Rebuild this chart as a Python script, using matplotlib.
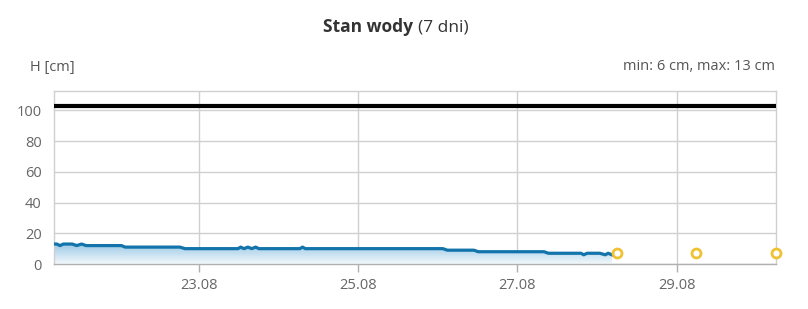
import numpy as np
import pandas as pd
import matplotlib
matplotlib.use("Agg")
import matplotlib.pyplot as plt
import matplotlib.dates as mdates
from matplotlib.colors import LinearSegmentedColormap

plt.rcParams['font.family'] = ['Open Sans', 'DejaVu Sans']

# ==========================================
# DATA — water level [cm]
# ==========================================
obs_times = [
    "2024-08-21 04:10", "2024-08-21 05:00", "2024-08-21 06:00", "2024-08-21 07:00",
    "2024-08-21 09:40", "2024-08-21 11:00", "2024-08-21 12:30", "2024-08-21 13:50",
    "2024-08-22 00:30", "2024-08-22 01:40", "2024-08-22 18:10", "2024-08-22 19:40",
    "2024-08-23 11:40", "2024-08-23 12:30", "2024-08-23 13:30", "2024-08-23 14:40",
    "2024-08-23 15:50", "2024-08-23 17:00", "2024-08-23 18:00",
    "2024-08-24 06:20", "2024-08-24 07:10", "2024-08-24 08:00",
    "2024-08-26 01:30", "2024-08-26 02:50", "2024-08-26 10:50", "2024-08-26 12:10",
    "2024-08-27 08:00", "2024-08-27 09:20", "2024-08-27 19:10", "2024-08-27 20:00",
    "2024-08-27 21:00", "2024-08-28 00:50", "2024-08-28 02:30", "2024-08-28 03:20",
    "2024-08-28 04:30",
]
obs_levels = [
    13, 13, 12, 13,
    13, 12, 13, 12,
    12, 11, 11, 10,
    10, 11, 10, 11,
    10, 11, 10,
    10, 11, 10,
    10, 9, 9, 8,
    8, 7, 7, 6,
    7, 7, 6, 7,
    6,
]

forecast_times  = ["2024-08-28 06:00", "2024-08-29 06:00", "2024-08-30 06:00"]
forecast_levels = [7, 7, 7]

alarm_level = 103

tick_dates  = ["2024-08-23", "2024-08-25", "2024-08-27", "2024-08-29"]
y_ticks     = [0, 20, 40, 60, 80, 100]

X_START = "2024-08-21 04:10"
X_END   = "2024-08-30 06:00"

# ==========================================
# STYLE
# ==========================================
LINE_COLOR = '#1274aa'
GRID_COLOR = '#d0d0d0'
TEXT_COLOR = '#666666'
FC_COLOR   = '#f0c233'


def main():
    t_obs = mdates.date2num(pd.to_datetime(obs_times))
    t_fc  = mdates.date2num(pd.to_datetime(forecast_times))
    x0 = mdates.date2num(pd.Timestamp(X_START))
    x1 = mdates.date2num(pd.Timestamp(X_END))

    fig = plt.figure(figsize=(8.08, 3.09), dpi=100, facecolor='white')
    ax = fig.add_axes([54 / 808, 1 - 264 / 309, 722 / 808, 173.5 / 309])

    # gradient area under the curve
    poly = ax.fill_between(t_obs, obs_levels, 0, facecolor='none', edgecolor='none')
    cmap = LinearSegmentedColormap.from_list('area', ['#f3f8fc', '#9ccae6'])
    grad = np.linspace(0, 1, 100).reshape(-1, 1)
    img = ax.imshow(grad, extent=[x0, x1, 0, max(obs_levels)], aspect='auto',
                    cmap=cmap, origin='lower', zorder=1)
    img.set_clip_path(poly.get_paths()[0], ax.transData)

    ax.plot(t_obs, obs_levels, color=LINE_COLOR, linewidth=2.3, zorder=3,
            solid_joinstyle='round')
    ax.axhline(alarm_level, color='black', linewidth=3.0, zorder=4)
    ax.scatter(t_fc, forecast_levels, s=42, facecolor='white', edgecolor=FC_COLOR,
               linewidth=2.0, zorder=5, clip_on=False)

    ax.set_xlim(x0, x1)
    ax.set_ylim(0, 113)

    ax.set_xticks(mdates.date2num(pd.to_datetime(tick_dates)))
    ax.xaxis.set_major_formatter(mdates.DateFormatter('%d.%m'))
    ax.set_yticks(y_ticks)

    ax.grid(True, color=GRID_COLOR, linewidth=1.0, zorder=0)
    ax.set_axisbelow(True)

    for side in ('left', 'top', 'right'):
        ax.spines[side].set_color(GRID_COLOR)
        ax.spines[side].set_linewidth(1.0)
    ax.spines['bottom'].set_color('#b0b0b0')
    ax.spines['bottom'].set_linewidth(1.0)

    ax.tick_params(axis='x', colors='#b0b0b0', length=6, width=1.0,
                   labelcolor=TEXT_COLOR, labelsize=10.5, pad=4)
    ax.tick_params(axis='y', length=0, labelcolor=TEXT_COLOR, labelsize=10.5, pad=9)

    # ── Titles & annotations ────────────────────────────
    fig.text(413 / 808, 1 - 27 / 309, "Stan wody", ha='right', va='center',
             fontsize=12.5, fontweight='bold', color='#333333')
    fig.text(418 / 808, 1 - 27 / 309, "(7 dni)", ha='left', va='center',
             fontsize=12.5, color='#333333')
    fig.text(30 / 808, 1 - 67 / 309, "H [cm]", ha='left', va='center',
             fontsize=10.5, color='#555555')
    fig.text(775 / 808, 1 - 67 / 309, "min: 6 cm, max: 13 cm", ha='right',
             va='center', fontsize=10.5, color='#555555')

    fig.savefig("out.png", dpi=100, facecolor='white')
    plt.close(fig)


if __name__ == "__main__":
    main()
